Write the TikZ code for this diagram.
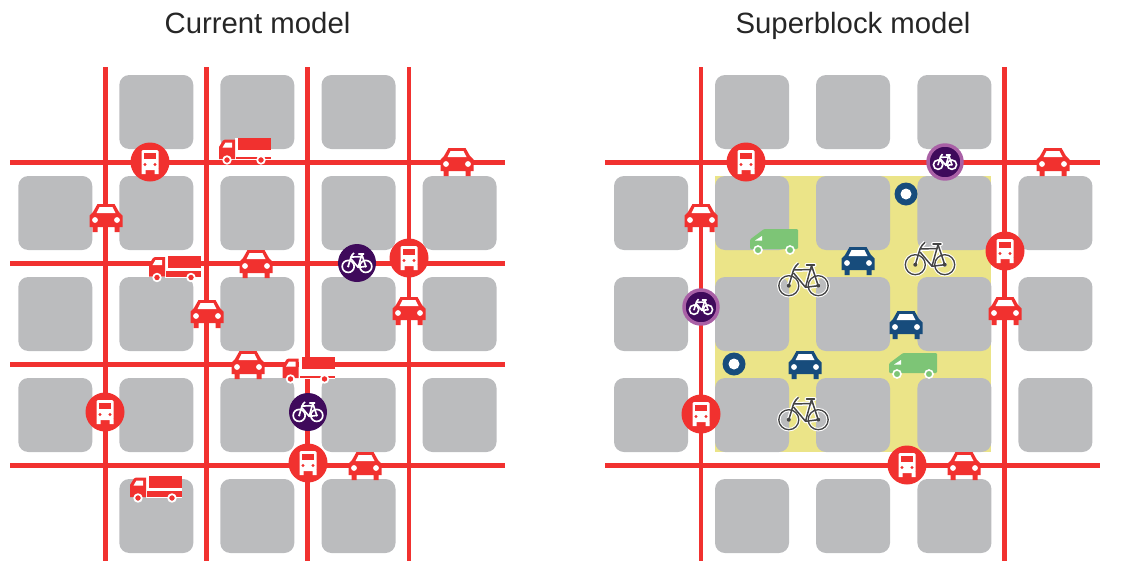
\documentclass[tikz,border=0pt]{standalone}
\usepackage{fontspec}
\setmainfont{Liberation Sans}
\definecolor{rd}{HTML}{F1312F}
\definecolor{blk}{HTML}{BBBCBE}
\definecolor{yel}{HTML}{EBE488}
\definecolor{pur}{HTML}{3F0A5B}
\definecolor{pnk}{HTML}{A960A6}
\definecolor{nav}{HTML}{174C7C}
\definecolor{grn}{HTML}{7DC576}
\definecolor{bk}{HTML}{444444}
\tikzset{
 blockbox/.style={fill=blk,rounded corners=7.5pt},
 road/.style={draw=rd,line width=3.6pt},
 title/.style={font=\fontsize{22}{24}\selectfont,text=black!85,inner sep=0pt,anchor=base},
}
\newcommand{\blk}[2]{\fill[blockbox] (#1,#2) rectangle ++(74,74);}
\newcommand{\carico}[3]{\begin{scope}[shift={(#1,#2)}]
 \fill[#3] (-8.5,-14) -- (8.5,-14) -- (13,-6) -- (16.5,-2.5) -- (16.5,9) -- (13.5,9) -- (13.5,14) -- (8.5,14) -- (8.5,9) -- (-8.5,9) -- (-8.5,14) -- (-13.5,14) -- (-13.5,9) -- (-16.5,9) -- (-16.5,-2.5) -- (-13,-6) -- cycle;
 \fill[white] (-6.5,-10.8) -- (6.5,-10.8) -- (9.5,-5) -- (-9.5,-5) -- cycle;
 \fill[white] (-11,2) circle (2.9) (11,2) circle (2.9);
\end{scope}}
\newcommand{\busico}[2]{\begin{scope}[shift={(#1,#2)}]
 \fill[rd] (0,0) circle (19.5);
 \fill[white,rounded corners=1pt] (-8.5,-12) rectangle (8.5,8);
 \fill[white] (-8.5,7) rectangle (-4.5,12) (4.5,7) rectangle (8.5,12);
 \fill[rd] (-6,-9.5) rectangle (6,-3.5);
 \fill[rd] (-5,2.5) circle (1.7) (5,2.5) circle (1.7);
\end{scope}}
\newcommand{\truckico}[3]{\begin{scope}[shift={(#1,#2)}]
 \fill[white] (-10,-13) rectangle (26,9);
 \fill[rd] (-7,-13) rectangle (26,-1);
 \fill[rd] (-9,#3) rectangle (26,8);
 \fill[rd] (-26,-4) -- (-22,-10.5) -- (-20,-11.5) -- (-10,-11.5) -- (-10,8) -- (-26,8) -- cycle;
 \fill[white] (-22.5,-3.5) -- (-19.5,-8.5) -- (-13,-8.5) -- (-13,-3.5) -- cycle;
 \fill[rd] (-18,9) circle (3) (16,9) circle (3);
 \draw[white,line width=1.3pt] (-18,9) circle (3.8) (16,9) circle (3.8);
\end{scope}}
\newcommand{\vanico}[2]{\begin{scope}[shift={(#1,#2)}]
 \fill[grn,rounded corners=0.8pt] (-24,-2) -- (-10,-12.5) -- (24,-12.5) -- (24,7.5) -- (-24,7.5) -- cycle;
 \fill[white] (-19,-1) -- (-12,-5.5) -- (-12,-1) -- cycle;
 \fill[grn] (-16,8.5) circle (3.5) (16,8.5) circle (3.5);
 \draw[white,line width=1.2pt] (-16,8.5) circle (4) (16,8.5) circle (4);
\end{scope}}
\newcommand{\bikeshape}[1]{%
 \draw[#1,line join=round] (-14.7,5.7) -- (-10,-10) -- (-8,-13.5) -- (-5,-16.7);
 \draw[#1,line join=round] (-10,-10) -- (8,-10.5);
 \draw[#1,line join=round] (-10,-7) -- (2,7.3) -- (8,-14.5) (2,7.3) -- (14.7,5.7) -- (8,-14.5);
 \draw[#1,line cap=round] (3,-15) -- (11,-15);
}
\newcommand{\bikeico}[2]{\begin{scope}[shift={(#1,#2)}]
 \draw[white,line width=2.6pt] (-14.7,5.7) circle (10) (14.7,5.7) circle (10);
 \bikeshape{white,line width=3pt}
 \draw[bk,line width=1pt] (-14.7,5.7) circle (10) (14.7,5.7) circle (10);
 \fill[bk] (-14.7,5.7) circle (2) (14.7,5.7) circle (2);
 \bikeshape{bk,line width=1.1pt}
\end{scope}}
\newcommand{\purico}[2]{\begin{scope}[shift={(#1,#2)}]
 \fill[pur] (0,0) circle (19);
 \begin{scope}[scale=.6]
 \draw[white,line width=1.25pt] (-14.7,5.7) circle (10) (14.7,5.7) circle (10);
 \fill[white] (-14.7,5.7) circle (2) (14.7,5.7) circle (2);
 \bikeshape{white,line width=1.25pt}
 \end{scope}
\end{scope}}
\newcommand{\pnkico}[2]{\begin{scope}[shift={(#1,#2)}]
 \fill[pur] (0,0) circle (17);
 \draw[pnk,line width=2.6pt] (0,0) circle (17);
 \begin{scope}[scale=.47]
 \draw[white,line width=1.2pt] (-14.7,5.7) circle (10) (14.7,5.7) circle (10);
 \fill[white] (-14.7,5.7) circle (2) (14.7,5.7) circle (2);
 \bikeshape{white,line width=1.2pt}
 \end{scope}
\end{scope}}
\newcommand{\ringico}[2]{\fill[nav] (#1,#2) circle (11.5);\fill[white] (#1,#2) circle (5.5);}
\begin{document}
\begin{tikzpicture}[x=0.75pt,y=-0.75pt]
\useasboundingbox (0,0) rectangle (1139,561);
\node[title] (t1) at (257.5,33) {Current model};
\node[title] (t2) at (853,33) {Superblock model};
% left blocks
\foreach \x in {119.3,220.3,321.5}{\blk{\x}{75}\blk{\x}{479}}
\foreach \x in {18.3,119.3,220.3,321.5,422.5}{\foreach \y in {176,277,378}{\blk{\x}{\y}}}
% left roads
\foreach \x in {105.7,206.7,307.7,409}{\draw[road] (\x,67) -- (\x,561);}
\foreach \y in {162.3,263.5,364.5,465.5}{\draw[road] (10,\y) -- (505,\y);}
% right yellow
\fill[yel] (715,176) rectangle (991,451.5);
\foreach \x in {715,816,917.4}{\blk{\x}{75}\blk{\x}{479}}
\foreach \x in {614,715,816,917.4,1018.4}{\foreach \y in {176,277,378}{\blk{\x}{\y}}}
\foreach \x in {701,1004.7}{\draw[road] (\x,67) -- (\x,561);}
\foreach \y in {162.3,465.5}{\draw[road] (605,\y) -- (1100,\y);}
% left icons
\truckico{245}{151}{5.5}\truckico{175}{268.5}{2}\truckico{308.5}{370}{5.5}\truckico{156}{489}{2}
\foreach \p/\q in {457/162,106/218,256/264,207/314,409/311,248/365,365/466}{\carico{\p}{\q}{rd}}
\busico{150}{162}\busico{409}{258}\busico{105}{412}\busico{308}{463}
\purico{357}{263}\purico{308}{412}
% right icons
\foreach \p/\q in {1053/162,701/218,1005/311,964/466}{\carico{\p}{\q}{rd}}
\foreach \p/\q in {858/261,906/325,805/365}{\carico{\p}{\q}{nav}}
\busico{746}{162}\busico{1005}{251}\busico{701}{414}\busico{907}{465}
\pnkico{945}{162}\pnkico{701}{307}
\ringico{906}{194}\ringico{734}{364}
\vanico{774}{241.5}\vanico{913}{365.5}
\bikeico{803.5}{280}\bikeico{930}{259}\bikeico{803.5}{414}
\end{tikzpicture}
\end{document}
